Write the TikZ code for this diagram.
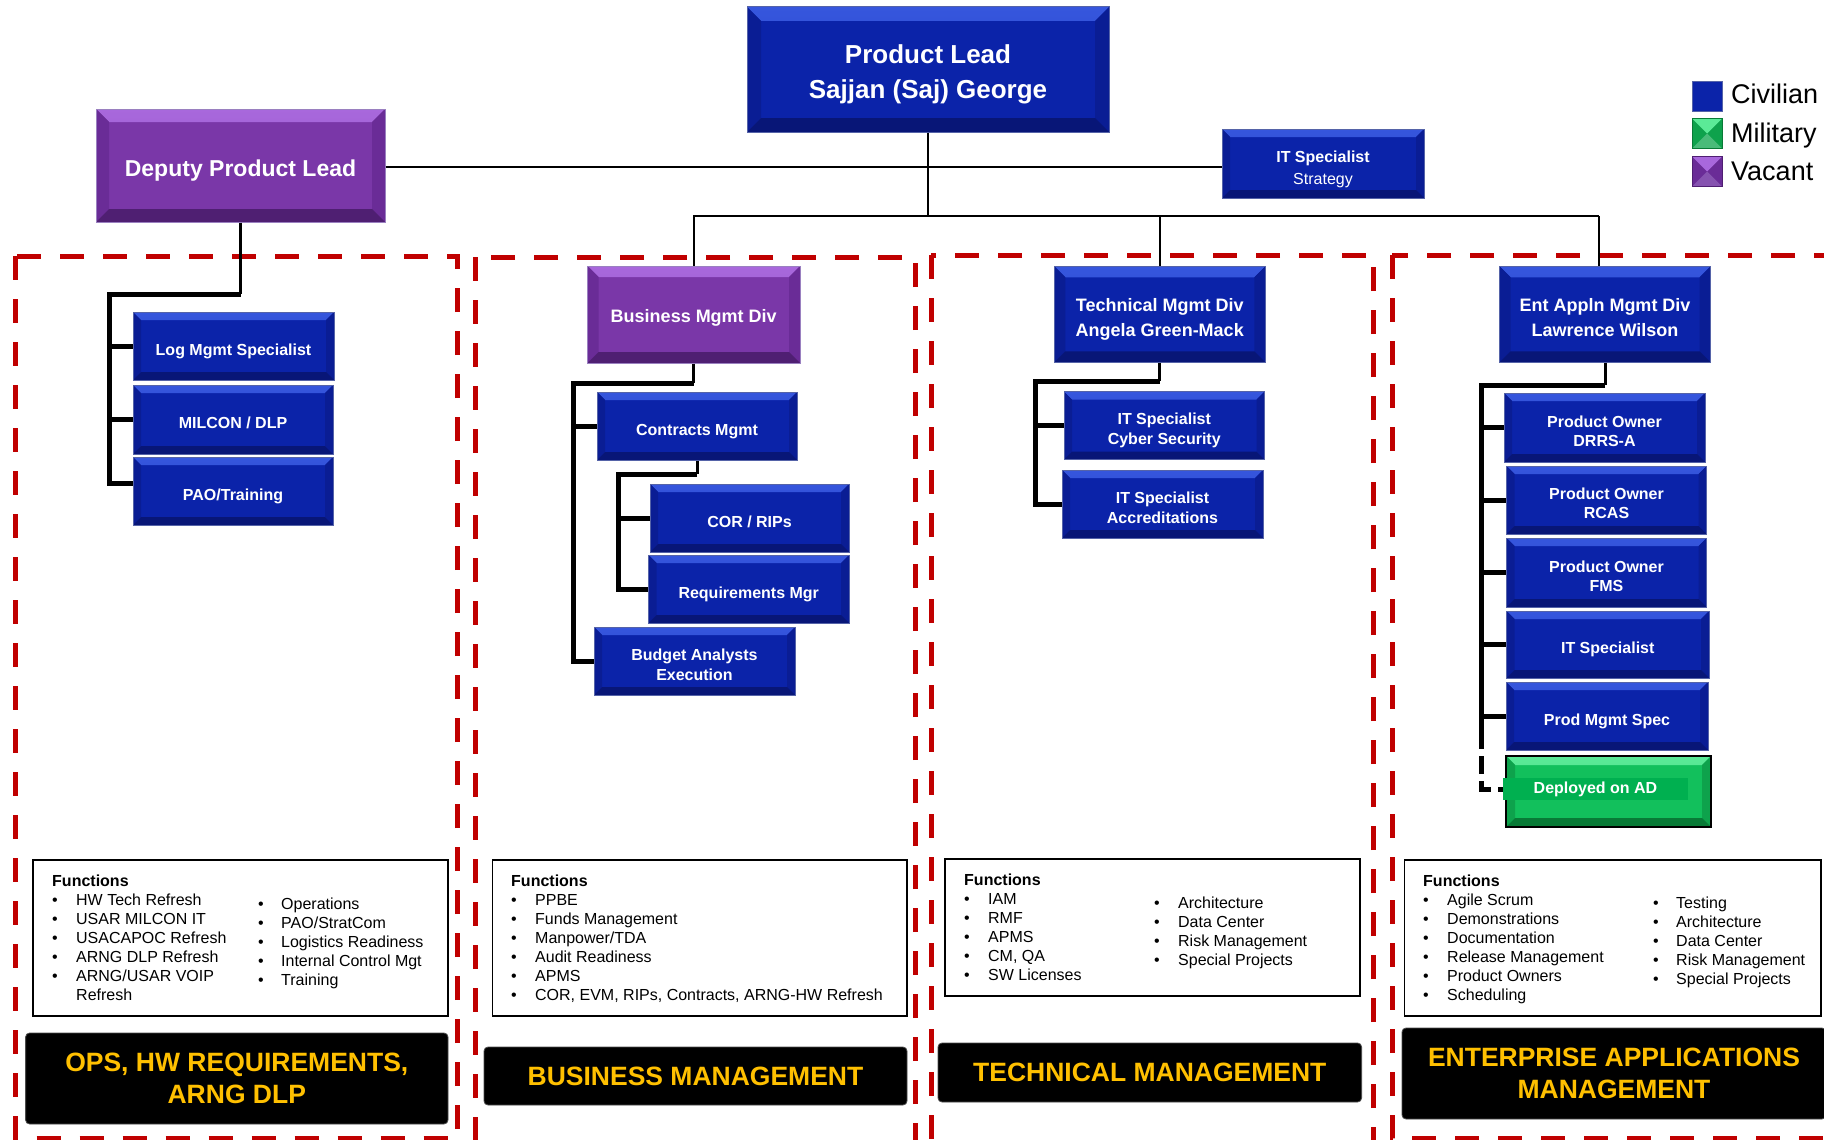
\documentclass[tikz,border=0pt]{standalone}
\usepackage{fontspec}
\setmainfont{Liberation Sans}
\definecolor{bbase}{HTML}{0B23A9}
\definecolor{btop}{HTML}{3656DD}
\definecolor{bside}{HTML}{0A1D94}
\definecolor{bbot}{HTML}{081677}
\definecolor{bedge}{HTML}{5563A8}
\definecolor{pbase}{HTML}{7A37A8}
\definecolor{ptop}{HTML}{A868DC}
\definecolor{pside}{HTML}{6A2C97}
\definecolor{pbot}{HTML}{4F1F72}
\definecolor{pedge}{HTML}{9A80C0}
\definecolor{gbase}{HTML}{12C05C}
\definecolor{gtop}{HTML}{5BEA97}
\definecolor{gside}{HTML}{0EA24C}
\definecolor{gbot}{HTML}{087A36}
\definecolor{glab}{HTML}{00B050}
\definecolor{dred}{HTML}{C00000}
\definecolor{gold}{HTML}{FFC000}
\newcommand{\fnbul}{\makebox[24pt][l]{•}}
\newcommand{\fnbulr}{\makebox[23pt][l]{•}}
\begin{document}
\begin{tikzpicture}[x=1pt,y=-1pt,
  bev/.style n args={5}{fill=#1, line width=1pt, inner sep=0pt, text=white, align=center,
    path picture={
      \shade[top color=#2, bottom color=#1!40!#2] (path picture bounding box.north west) -- (path picture bounding box.north east) -- ([shift={(-#5,-#5)}]path picture bounding box.north east) -- ([shift={(#5,-#5)}]path picture bounding box.north west) -- cycle;
      \fill[#3] (path picture bounding box.north west) -- ([shift={(#5,-#5)}]path picture bounding box.north west) -- ([shift={(#5,#5)}]path picture bounding box.south west) -- (path picture bounding box.south west) -- cycle;
      \fill[#3] (path picture bounding box.north east) -- ([shift={(-#5,-#5)}]path picture bounding box.north east) -- ([shift={(-#5,#5)}]path picture bounding box.south east) -- (path picture bounding box.south east) -- cycle;
      \fill[#4] (path picture bounding box.south west) -- ([shift={(#5,#5)}]path picture bounding box.south west) -- ([shift={(-#5,#5)}]path picture bounding box.south east) -- (path picture bounding box.south east) -- cycle;
    }},
  civ/.style={bev={bbase}{btop}{bside}{bbot}{#1}, draw=bedge},
  civ/.default=8pt,
  vac/.style={bev={pbase}{ptop}{pside}{pbot}{#1}, draw=pedge},
  vac/.default=8pt,
  mil/.style={bev={gbase}{gtop}{gside}{gbot}{#1}, draw=black, line width=2.5pt},
  mil/.default=8pt,
  th/.style={text height=#1, text depth=0pt},
  sm/.style={civ=8pt, minimum height=68pt, font=\fontsize{16}{20}\selectfont\bfseries, th=18.3pt},
  smtwo/.style={th=38.3pt},
  potwo/.style={font=\fontsize{16}{19}\selectfont\bfseries, th=37.3pt},
  div/.style={minimum width=211pt, minimum height=96pt, font=\fontsize{18}{25}\selectfont\bfseries, th=44.4pt},
  pyr/.style n args={3}{fill=#1, inner sep=0pt, minimum width=30pt, minimum height=30pt, draw=#3, line width=0.8pt,
    path picture={
      \fill[#2] (path picture bounding box.north west) -- (path picture bounding box.north east) -- (path picture bounding box.center) -- cycle;
      \fill[#2!80!black] (path picture bounding box.south west) -- (path picture bounding box.south east) -- (path picture bounding box.center) -- cycle;
    }},
  legtxt/.style={anchor=base west, inner sep=0pt, font=\fontsize{27}{30}\selectfont},
  thinln/.style={line width=2.2pt},
  dropln/.style={line width=3pt},
  thkln/.style={line width=5pt, line join=miter},
  dashln/.style={line width=5pt, dash pattern=on 18pt off 7pt},
  redframe/.style={draw=dred, line width=5pt, dash pattern=on 24pt off 19pt},
  fnbox/.style={draw=black, line width=1.5pt, fill=white, inner sep=0pt},
  fntxt/.style={anchor=base west, inner sep=0pt, align=left, font=\fontsize{16}{19}\selectfont},
  ttl/.style={fill=black, rounded corners=4pt, draw=black!70, line width=0.8pt, text=gold, inner sep=0pt, align=center, font=\fontsize{26.5}{32}\selectfont\bfseries}
]
\useasboundingbox (0,0) rectangle (1824,1140);
\clip (0,0) rectangle (1824,1140);

% dashed red frames
\draw[redframe] (15.7,256) rectangle (457.8,1138);
\draw[redframe] (475,257) rectangle (915,1170);
\draw[redframe] (931,255) rectangle (1373,1170);
\draw[redframe] (1392,255) rectangle (1850,1138);

% top level boxes
\node[civ=14pt, minimum width=362pt, minimum height=125pt, font=\fontsize{26}{35}\selectfont\bfseries, th=57.6pt] (pl) at (928,69.5) {Product Lead\\Sajjan (Saj) George};
\node[vac=13pt, minimum width=289pt, minimum height=113pt, font=\fontsize{23}{28}\selectfont\bfseries, th=22pt] (dep) at (240.5,165.5) {Deputy Product Lead};
\node[civ=8pt, minimum width=202pt, minimum height=69pt, font=\fontsize{16}{22.5}\selectfont, th=42pt] (its) at (1323,163.5) {\textbf{IT Specialist}\\Strategy};

% legend
\node[fill=bbase, draw=bedge, line width=0.8pt, minimum width=30pt, minimum height=30pt, inner sep=0pt] (lciv) at (1707,96) {};
\node[pyr={gside}{gtop}{gbot}] (lmil) at (1707,133.5) {};
\node[pyr={pside}{ptop}{pbot}] (lvac) at (1707,171.5) {};
\node[legtxt] (tciv) at (1731,103) {Civilian};
\node[legtxt] (tmil) at (1731,142) {Military};
\node[legtxt] (tvac) at (1731,180) {Vacant};

% division boxes
\node[vac=11pt, div, minimum width=212.5pt, minimum height=97pt, th=16.9pt] (bmd) at (693.75,314.5) {Business Mgmt Div};
\node[civ=11pt, div] (tmd) at (1159.75,314.25) {Technical Mgmt Div\\Angela Green-Mack};
\node[civ=11pt, div] (emd) at (1605,314.25) {Ent Appln Mgmt Div\\Lawrence Wilson};

% column 1
\node[sm, minimum width=201pt] (lms) at (233.5,346) {Log Mgmt Specialist};
\node[sm, minimum width=200pt, minimum height=69pt] (mcn) at (233,419.5) {MILCON / DLP};
\node[sm, minimum width=200pt] (pao) at (233,491) {PAO/Training};

% column 2
\node[sm, minimum width=200pt] (con) at (697,426) {Contracts Mgmt};
\node[sm, minimum width=199pt] (cor) at (749.5,518) {COR / RIPs};
\node[sm, minimum width=200.5pt] (req) at (748.75,589) {Requirements Mgr};
\node[sm, smtwo, minimum width=201pt] (bud) at (694.5,661) {Budget Analysts\\Execution};

% column 3
\node[sm, smtwo, minimum width=200.5pt] (cyb) at (1164.25,425.65) {IT Specialist\\Cyber Security};
\node[sm, smtwo, minimum width=201pt] (acc) at (1162.5,504) {IT Specialist\\Accreditations};

% column 4
\node[sm, potwo, minimum width=201pt, minimum height=69pt] (po1) at (1604.5,427.5) {Product Owner\\DRRS-A};
\node[sm, potwo, minimum width=200pt] (po2) at (1606.5,500) {Product Owner\\RCAS};
\node[sm, potwo, minimum width=200pt, minimum height=69pt] (po3) at (1606.5,572.5) {Product Owner\\FMS};
\node[sm, minimum width=202.5pt, minimum height=67pt] (itsp) at (1607.75,644.5) {IT Specialist};
\node[sm, minimum width=202pt] (pms) at (1607,716) {Prod Mgmt Spec};

% connectors: top level
\coordinate (hl) at (930,167);
\coordinate (hb) at (928,216);
\coordinate (hbr) at (1599,216);
\draw[thinln] (dep.east |- hl) -- (its.west |- hl);
\draw[thinln] (pl.south) -- (hb);
\draw[thinln] (bmd.north) |- (hbr);
\draw[thinln] (hbr) -- (hbr |- emd.north);
\draw[thinln] (tmd.north) -- (tmd.north |- hb);

% column 1 bracket
\coordinate (k1) at (109,294);
\coordinate (paostub) at ([yshift=8pt]pao.west);
\draw[dropln] (dep.south) -- (dep.south |- k1);
\draw[thkln] (dep.south |- k1) -- (k1) -- (k1 |- paostub) -- (paostub);
\draw[thkln] (k1 |- lms.west) -- (lms.west);
\draw[thkln] (k1 |- mcn.west) -- (mcn.west);

% column 2 brackets
\coordinate (k2) at (573,383);
\draw[dropln] (bmd.south) -- (bmd.south |- k2);
\draw[thkln] (bmd.south |- k2) -- (k2) -- (k2 |- bud.west) -- (bud.west);
\draw[thkln] (k2 |- con.west) -- (con.west);
\coordinate (k3) at (618,474);
\draw[dropln] (con.south) -- (con.south |- k3);
\draw[thkln] (con.south |- k3) -- (k3) -- (k3 |- req.west) -- (req.west);
\draw[thkln] (k3 |- cor.west) -- (cor.west);

% column 3 bracket
\coordinate (k4) at (1035,381);
\draw[dropln] (tmd.south) -- (tmd.south |- k4);
\draw[thkln] (tmd.south |- k4) -- (k4) -- (k4 |- acc.west) -- (acc.west);
\draw[thkln] (k4 |- cyb.west) -- (cyb.west);

% column 4 bracket
\coordinate (k5) at (1481,385);
\coordinate (k5e) at (1481,731);
\draw[dropln] (emd.south) -- (emd.south |- k5);
\draw[thkln] (emd.south |- k5) -- (k5) -- (k5e);
\draw[thkln] (k5 |- po1.west) -- (po1.west);
\draw[thkln] (k5 |- po2.west) -- (po2.west);
\draw[thkln] (k5 |- po3.west) -- (po3.west);
\draw[thkln] (k5 |- itsp.west) -- (itsp.west);
\draw[thkln] (k5 |- pms.west) -- (pms.west);
\coordinate (dlw) at (1503,789);
\draw[dashln] (k5e) -- (k5e |- dlw) -- (dlw);

% deployed box
\node[mil=9pt, minimum width=205pt, minimum height=71pt] (dad) at (1608.5,791.5) {};
\node[fill=glab, minimum width=185pt, minimum height=22pt, inner sep=0pt, text=white, font=\fontsize{16}{19}\selectfont\bfseries] (dlab) at (1595.5,789) {Deployed on AD};

% function boxes
\node[fnbox, minimum width=415pt, minimum height=156pt] (fb1) at (240.5,938) {};
\node[fnbox, minimum width=414.4pt, minimum height=156pt] (fb2) at (699.8,938) {};
\node[fnbox, minimum width=415pt, minimum height=137pt] (fb3) at (1152.5,927.5) {};
\node[fnbox, minimum width=416.4pt, minimum height=156pt] (fb4) at (1612.8,938) {};

% function texts (anchor = baseline of last line)
\node[fntxt] (f1a) at (52,1000) {\textbf{Functions}\\\fnbul HW Tech Refresh\\\fnbul USAR MILCON IT\\\fnbul USACAPOC Refresh\\\fnbul ARNG DLP Refresh\\\fnbul ARNG/USAR VOIP\\\hspace*{24pt}Refresh};
\node[fntxt] (f1b) at (258,985.5) {\fnbulr Operations\\\fnbulr PAO/StratCom\\\fnbulr Logistics Readiness\\\fnbulr Internal Control Mgt\\\fnbulr Training};

\node[fntxt] (f2a) at (511,1000) {\textbf{Functions}\\\fnbul PPBE\\\fnbul Funds Management\\\fnbul Manpower/TDA\\\fnbul Audit Readiness\\\fnbul APMS\\\fnbul COR, EVM, RIPs, Contracts, ARNG-HW Refresh};

\node[fntxt] (f3a) at (964,980) {\textbf{Functions}\\\fnbul IAM\\\fnbul RMF\\\fnbul APMS\\\fnbul CM, QA\\\fnbul SW Licenses};
\node[fntxt] (f3b) at (1154,965.5) {\fnbul Architecture\\\fnbul Data Center\\\fnbul Risk Management\\\fnbul Special Projects};

\node[fntxt] (f4a) at (1423,1000) {\textbf{Functions}\\\fnbul Agile Scrum\\\fnbul Demonstrations\\\fnbul Documentation\\\fnbul Release Management\\\fnbul Product Owners\\\fnbul Scheduling};
\node[fntxt] (f4b) at (1653,984.5) {\fnbulr Testing\\\fnbulr Architecture\\\fnbulr Data Center\\\fnbulr Risk Management\\\fnbulr Special Projects};

% title boxes
\node[ttl, minimum width=422.4pt, minimum height=91pt] (t1) at (236.8,1078.5) {OPS, HW REQUIREMENTS,\\ARNG DLP};
\node[ttl, minimum width=423pt, minimum height=58pt] (t2) at (695.5,1076) {BUSINESS MANAGEMENT};
\node[ttl, minimum width=423.6pt, minimum height=59pt] (t3) at (1149.8,1072.5) {TECHNICAL MANAGEMENT};
\node[ttl, minimum width=424pt, minimum height=91pt] (t4) at (1614,1073.5) {ENTERPRISE APPLICATIONS\\MANAGEMENT};
\end{tikzpicture}
\end{document}
